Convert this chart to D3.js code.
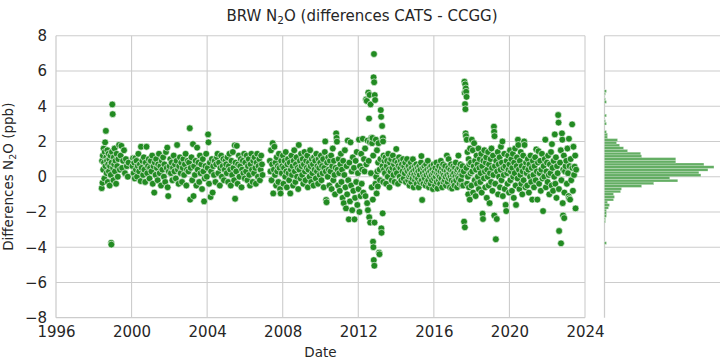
<!DOCTYPE html>
<html>
<head>
<meta charset="utf-8">
<script src="https://cdn.jsdelivr.net/npm/d3@7"></script>
<style>
    body { margin: 0; background: #fff; }
    svg text { font-family: "DejaVu Sans", sans-serif; fill: #262626; }
    .grid line { stroke: #cccccc; stroke-width: 1.1; }
    .spine { stroke: #cccccc; stroke-width: 1.25; }
    .axis path { display: none; }
</style>
</head>
<body>
<script>
//tick labels
var xTicks = [1996, 2000, 2004, 2008, 2012, 2016, 2020, 2024];
var yTicks = [-8, -6, -4, -2, 0, 2, 4, 6, 8];

//[decimal year, CATS - CCGG difference in ppb]
var obs = [
    //1998-1999
    [1998.42,-0.65],[1998.44,0.9],[1998.46,-0.35],[1998.48,1.2],[1998.50,0.4],[1998.52,1.6],[1998.54,0.8],[1998.56,-0.1],
    [1998.58,1.4],[1998.60,1.95],[1998.62,0.6],[1998.64,2.6],[1998.66,1.1],[1998.68,0.2],[1998.70,0.9],[1998.72,1.5],
    [1998.74,-0.3],[1998.76,0.7],[1998.78,1.3],[1998.80,0.3],[1998.82,1.0],[1998.84,-0.5],[1998.86,0.6],[1998.88,1.2],
    [1998.90,0.1],[1998.92,-3.75],[1998.93,-3.85],[1998.94,0.8],[1998.96,1.4],[1998.98,4.1],[1999.00,3.55],[1999.02,0.5],
    [1999.04,-0.2],[1999.06,1.1],[1999.08,0.7],[1999.10,1.6],[1999.12,0.3],[1999.15,0.9],[1999.18,-0.4],[1999.21,1.3],
    [1999.24,0.6],[1999.27,0.0],[1999.30,1.0],[1999.34,1.8],[1999.38,0.4],[1999.42,1.2],[1999.46,1.75],[1999.50,0.5],
    [1999.55,0.9],[1999.60,1.5],[1999.65,0.2],[1999.70,1.0],[1999.75,0.6],[1999.80,0.0],[1999.84,0.8],
    //2000
    [2000.05,0.6],[2000.08,1.05],[2000.11,0.2],[2000.14,0.8],[2000.17,-0.1],[2000.20,1.05],[2000.23,0.4],[2000.26,0.9],
    [2000.29,0.0],[2000.33,0.6],[2000.36,1.3],[2000.40,0.3],[2000.44,0.7],[2000.48,-0.25],[2000.50,1.7],[2000.53,0.5],
    [2000.57,0.9],[2000.61,0.1],[2000.65,1.1],[2000.68,0.4],[2000.72,-0.3],[2000.75,0.8],[2000.79,1.7],[2000.83,0.2],
    [2000.87,0.6],[2000.91,1.0],[2000.95,-0.1],[2000.98,0.5],
    //2001
    [2001.02,0.9],[2001.05,0.3],[2001.09,1.2],[2001.12,-0.4],[2001.16,0.6],[2001.20,-0.9],[2001.23,0.8],[2001.27,0.1],
    [2001.30,1.0],[2001.34,0.5],[2001.38,-0.2],[2001.41,0.7],[2001.45,1.3],[2001.49,0.2],[2001.52,0.6],[2001.56,-0.5],
    [2001.60,0.9],[2001.63,0.4],[2001.67,1.1],[2001.71,0.0],[2001.74,0.7],[2001.78,-0.3],[2001.82,1.4],[2001.86,0.5],
    [2001.89,1.65],[2001.91,-0.6],[2001.94,-1.1],[2001.97,0.3],
    //2002
    [2002.01,0.6],[2002.05,1.0],[2002.08,0.2],[2002.12,0.8],[2002.16,-0.2],[2002.19,0.5],[2002.23,1.2],[2002.27,0.3],
    [2002.30,0.7],[2002.34,-0.1],[2002.38,0.9],[2002.41,1.8],[2002.45,0.4],[2002.49,-0.4],[2002.52,0.6],[2002.56,1.1],
    [2002.60,0.2],[2002.63,0.8],[2002.67,-0.3],[2002.71,0.5],[2002.74,1.0],[2002.78,0.1],[2002.82,0.7],[2002.86,1.3],
    [2002.90,-0.5],[2002.93,0.4],[2002.97,0.9],
    //2003
    [2003.01,0.3],[2003.04,0.8],[2003.08,2.75],[2003.10,-1.3],[2003.13,0.5],[2003.17,1.1],[2003.21,-0.2],[2003.25,1.85],
    [2003.28,-1.1],[2003.31,0.6],[2003.35,0.1],[2003.39,0.9],[2003.43,-0.5],[2003.47,1.65],[2003.50,0.4],[2003.54,0.8],
    [2003.58,-0.3],[2003.62,1.2],[2003.65,0.2],[2003.69,0.7],[2003.73,-0.7],[2003.77,1.0],[2003.80,0.3],[2003.84,-1.4],
    [2003.87,-0.1],[2003.91,0.6],[2003.95,1.3],[2003.98,0.0],
    //2004
    [2004.03,0.5],[2004.05,2.4],[2004.07,1.95],[2004.10,-0.4],[2004.14,0.8],[2004.18,-1.15],[2004.21,0.3],[2004.25,1.0],
    [2004.29,-0.9],[2004.32,0.6],[2004.36,0.1],[2004.40,0.9],[2004.44,-0.3],[2004.48,0.7],[2004.52,1.1],[2004.55,1.3],
    [2004.59,0.2],[2004.63,0.8],[2004.67,-0.5],[2004.70,0.5],[2004.74,1.2],[2004.78,0.0],[2004.82,0.6],[2004.86,1.0],
    [2004.89,-0.2],[2004.93,0.4],[2004.97,0.9],
    //2005
    [2005.01,0.7],[2005.04,0.2],[2005.08,1.1],[2005.11,-0.3],[2005.15,0.6],[2005.18,1.3],[2005.22,0.4],[2005.25,-0.5],
    [2005.29,0.9],[2005.32,0.1],[2005.36,1.4],[2005.39,0.5],[2005.43,-0.2],[2005.46,1.78],[2005.48,-1.25],[2005.50,0.8],
    [2005.54,0.3],[2005.57,1.75],[2005.61,-0.4],[2005.64,0.7],[2005.68,1.2],[2005.71,0.0],[2005.75,0.6],[2005.78,1.0],
    [2005.82,-0.6],[2005.85,0.4],[2005.89,0.9],[2005.92,0.2],[2005.96,1.3],[2005.99,-0.1],
    //2006
    [2006.02,0.8],[2006.06,0.3],[2006.09,1.2],[2006.13,-0.2],[2006.16,0.6],[2006.20,1.0],[2006.23,0.1],[2006.27,-0.5],
    [2006.30,0.7],[2006.34,1.3],[2006.37,0.4],[2006.41,-0.3],[2006.44,0.9],[2006.48,0.2],[2006.51,1.1],[2006.55,0.5],
    [2006.58,-0.4],[2006.62,0.8],[2006.65,1.3],[2006.69,0.0],[2006.72,0.6],[2006.76,1.0],[2006.79,-0.2],[2006.83,0.4],
    [2006.86,1.2],[2006.90,0.7],[2006.93,0.1],
    //2007
    [2007.32,0.9],[2007.35,0.3],[2007.38,1.5],[2007.41,-0.2],[2007.44,0.7],[2007.47,1.9],[2007.50,-0.95],[2007.53,0.4],
    [2007.56,1.7],[2007.59,0.1],[2007.62,0.8],[2007.65,-0.5],[2007.68,1.1],[2007.71,0.3],[2007.74,0.6],[2007.77,-0.3],
    [2007.80,1.3],[2007.83,0.5],[2007.86,-0.7],[2007.89,-0.95],[2007.92,0.9],[2007.95,0.2],[2007.98,0.6],
    //2008
    [2008.01,1.2],[2008.04,-0.4],[2008.07,0.5],[2008.10,0.9],[2008.13,0.0],[2008.16,1.4],[2008.19,0.3],[2008.22,-0.6],
    [2008.25,0.7],[2008.28,1.0],[2008.31,0.2],[2008.34,-0.2],[2008.37,0.8],[2008.40,-0.95],[2008.43,0.4],[2008.46,1.2],
    [2008.49,0.1],[2008.52,0.6],[2008.55,-0.5],[2008.58,0.9],[2008.61,1.5],[2008.64,0.3],[2008.67,-0.3],[2008.70,0.7],
    [2008.73,1.1],[2008.76,0.0],[2008.79,0.5],[2008.82,-0.7],[2008.85,1.8],[2008.88,0.4],[2008.91,0.9],[2008.94,-0.1],
    [2008.97,1.3],
    //2009
    [2009.00,0.6],[2009.03,0.1],[2009.06,1.0],[2009.09,-0.4],[2009.12,0.7],[2009.15,1.4],[2009.18,0.3],[2009.21,-0.2],
    [2009.24,0.9],[2009.27,0.5],[2009.30,1.2],[2009.33,-0.6],[2009.36,0.4],[2009.39,0.8],[2009.42,0.0],[2009.45,1.5],
    [2009.48,0.6],[2009.51,-0.3],[2009.54,1.0],[2009.57,0.2],[2009.60,0.7],[2009.63,-0.5],[2009.66,1.1],[2009.69,0.4],
    [2009.72,0.9],[2009.75,-0.1],[2009.78,1.3],[2009.81,0.3],[2009.84,0.6],[2009.87,-0.4],[2009.90,1.0],[2009.93,0.5],
    [2009.96,0.1],[2009.99,0.8],
    //2010
    [2010.02,1.2],[2010.05,-0.2],[2010.08,0.6],[2010.11,0.2],[2010.14,1.0],[2010.17,-0.6],[2010.20,0.5],[2010.23,1.4],
    [2010.25,2.0],[2010.28,0.3],[2010.30,-1.32],[2010.32,-1.45],[2010.35,0.8],[2010.38,0.0],[2010.41,1.1],[2010.44,0.4],
    [2010.47,-0.5],[2010.50,0.9],[2010.53,0.3],[2010.56,1.2],[2010.59,-0.7],[2010.62,0.6],[2010.65,1.6],[2010.68,-0.2],
    [2010.71,0.9],[2010.74,0.1],[2010.77,-1.0],[2010.80,0.5],[2010.83,2.46],[2010.85,2.2],[2010.87,1.99],[2010.90,0.4],
    [2010.93,-0.5],[2010.96,1.0],[2010.99,0.2],
    //2011
    [2011.02,-0.8],[2011.05,0.7],[2011.08,1.3],[2011.11,-0.3],[2011.14,0.4],[2011.17,-1.2],[2011.20,0.9],[2011.23,-1.5],
    [2011.26,0.1],[2011.29,1.5],[2011.32,-0.6],[2011.35,-1.8],[2011.38,0.6],[2011.41,-1.0],[2011.44,2.05],[2011.47,-0.2],
    [2011.50,-2.42],[2011.53,0.8],[2011.56,-1.4],[2011.59,1.95],[2011.62,-0.5],[2011.65,0.3],[2011.68,-1.9],[2011.71,1.1],
    [2011.74,-0.8],[2011.77,0.5],[2011.80,-2.42],[2011.83,-1.2],[2011.86,0.9],[2011.89,-0.3],[2011.92,1.4],[2011.95,-1.6],
    [2011.98,0.2],
    //2012-2013
    [2012.01,-0.7],[2012.04,2.1],[2012.06,-2.0],[2012.09,0.6],[2012.12,-1.1],[2012.15,1.3],[2012.18,-0.4],[2012.21,0.4],
    [2012.24,2.15],[2012.27,-0.9],[2012.30,1.0],[2012.33,0.3],[2012.36,1.6],[2012.38,-1.1],[2012.41,4.38],[2012.43,0.7],
    [2012.45,4.3],[2012.47,-1.5],[2012.49,2.05],[2012.51,-1.9],[2012.53,4.77],[2012.55,0.9],[2012.57,3.3],[2012.58,-2.3],
    [2012.60,4.64],[2012.61,1.97],[2012.63,-2.6],[2012.65,4.1],[2012.67,0.2],[2012.69,2.2],[2012.71,-0.6],[2012.73,1.9],
    [2012.75,2.2],[2012.77,-1.3],[2012.78,-3.69],[2012.79,1.2],[2012.80,-4.0],[2012.81,5.64],[2012.82,-4.73],[2012.83,6.96],
    [2012.84,5.36],[2012.85,-5.05],[2012.86,-2.6],[2012.87,4.63],[2012.89,4.35],[2012.91,-0.4],[2012.93,2.1],[2012.95,0.0],
    [2012.97,-0.95],[2012.99,1.5],[2013.01,0.3],[2013.03,-0.55],[2013.05,0.8],[2013.07,1.9],[2013.10,-4.31],[2013.12,-4.4],
    [2013.13,0.4],[2013.15,-0.2],[2013.17,1.0],[2013.19,3.78],[2013.21,3.4],[2013.22,-2.93],[2013.23,-3.18],[2013.26,2.88],
    [2013.28,0.6],[2013.29,-2.08],[2013.30,2.2],[2013.31,2.0],[2013.32,-0.3],[2013.34,1.2],[2013.36,0.4],[2013.38,0.9],
    [2013.41,0.2],[2013.44,1.1],[2013.47,-0.4],[2013.50,0.6],[2013.53,0.9],[2013.56,0.0],[2013.59,1.3],[2013.62,0.4],
    [2013.65,-0.6],[2013.68,0.8],[2013.71,0.3],[2013.74,1.0],[2013.77,-0.2],[2013.80,0.5],[2013.83,1.2],[2013.86,0.1],
    [2013.89,0.7],[2013.92,-0.3],[2013.95,0.9],[2013.98,0.4],
    //2014
    [2014.01,1.57],[2014.04,0.2],[2014.07,0.8],[2014.10,-0.4],[2014.13,0.6],[2014.16,1.1],[2014.19,0.0],[2014.22,0.5],
    [2014.25,0.9],[2014.28,-0.2],[2014.31,0.7],[2014.34,0.3],[2014.37,1.0],[2014.40,-0.1],[2014.43,0.6],[2014.46,0.2],
    [2014.49,0.8],[2014.52,-0.3],[2014.55,0.4],[2014.58,1.0],[2014.62,0.3],[2014.64,-0.2],[2014.66,0.6],[2014.69,0.0],
    [2014.71,-0.5],[2014.73,0.4],[2014.75,0.1],[2014.78,0.8],[2014.80,-0.3],[2014.82,0.2],[2014.84,0.5],[2014.87,-0.1],
    [2014.89,0.99],[2014.91,0.3],[2014.93,-0.6],[2014.96,0.1],[2014.98,0.6],
    //2015
    [2015.00,-0.2],[2015.02,0.4],[2015.05,0.0],[2015.07,0.7],[2015.09,-0.4],[2015.11,0.2],[2015.14,0.5],[2015.16,-0.1],
    [2015.18,0.3],[2015.20,-0.6],[2015.23,0.6],[2015.25,0.1],[2015.27,-0.3],[2015.29,0.4],[2015.32,0.8],[2015.34,1.17],
    [2015.36,-0.2],[2015.38,-1.32],[2015.41,0.2],[2015.43,0.5],[2015.45,-0.4],[2015.47,0.0],[2015.50,0.6],[2015.52,-0.1],
    [2015.54,0.3],[2015.56,-0.5],[2015.59,0.7],[2015.61,0.1],[2015.63,-0.3],[2015.65,0.4],[2015.68,0.9],[2015.70,-0.2],
    [2015.72,0.2],[2015.74,-0.6],[2015.77,0.5],[2015.79,0.0],[2015.81,0.3],[2015.83,-0.4],[2015.86,0.6],[2015.88,0.1],
    [2015.90,-0.2],[2015.92,0.4],[2015.95,-0.7],[2015.97,0.2],[2015.99,0.7],
    //2016
    [2016.01,-0.1],[2016.04,0.3],[2016.06,-0.5],[2016.08,0.5],[2016.10,0.0],[2016.13,0.8],[2016.15,-0.3],[2016.17,0.2],
    [2016.19,-0.67],[2016.22,0.4],[2016.24,0.1],[2016.26,-0.2],[2016.28,0.6],[2016.31,0.0],[2016.33,-0.4],[2016.35,0.3],
    [2016.37,0.9],[2016.40,-0.1],[2016.42,0.5],[2016.44,-0.6],[2016.46,0.2],[2016.49,0.7],[2016.51,-0.3],[2016.53,0.1],
    [2016.55,0.4],[2016.58,-0.2],[2016.60,0.6],[2016.62,0.0],[2016.64,-0.5],[2016.67,0.3],[2016.69,1.2],[2016.71,0.1],
    [2016.73,-0.3],[2016.76,0.5],[2016.78,1.0],[2016.80,-0.1],[2016.82,0.2],[2016.85,-0.6],[2016.87,0.4],[2016.89,0.0],
    [2016.91,0.7],[2016.94,-0.2],[2016.96,-0.67],[2016.98,0.3],
    //2017
    [2017.00,0.1],[2017.03,0.6],[2017.05,-0.3],[2017.07,0.2],[2017.09,-0.5],[2017.12,0.5],[2017.14,0.0],[2017.16,0.8],
    [2017.18,-0.2],[2017.21,0.3],[2017.23,-0.6],[2017.25,0.4],[2017.27,0.0],[2017.30,1.2],[2017.32,-0.1],[2017.34,0.5],
    [2017.36,-0.4],[2017.39,0.2],[2017.41,0.7],[2017.43,-0.2],[2017.45,0.3],[2017.48,-0.5],[2017.50,0.1],[2017.52,0.6],
    [2017.55,-0.5],[2017.58,0.3],[2017.60,-2.55],[2017.62,5.39],[2017.63,4.76],[2017.64,-2.87],[2017.65,4.12],[2017.66,5.24],
    [2017.67,3.83],[2017.68,2.46],[2017.69,5.01],[2017.70,2.31],[2017.71,4.82],[2017.72,0.5],[2017.73,4.53],[2017.74,2.1],
    [2017.76,-0.4],[2017.78,1.4],[2017.80,0.0],[2017.82,-1.0],[2017.84,1.0],[2017.86,-0.6],[2017.88,0.7],[2017.90,-1.3],
    [2017.92,1.6],[2017.94,0.2],[2017.96,0.8],[2017.99,-0.5],
    //2018
    [2018.01,2.1],[2018.03,0.3],[2018.06,1.5],[2018.08,-0.9],[2018.11,0.6],[2018.13,1.9],[2018.16,-0.2],[2018.18,0.9],
    [2018.21,-1.1],[2018.23,0.4],[2018.26,1.2],[2018.28,-0.4],[2018.31,0.7],[2018.33,0.0],[2018.36,1.6],[2018.38,-0.7],
    [2018.41,0.5],[2018.43,1.0],[2018.46,-0.3],[2018.48,0.2],[2018.51,1.3],[2018.53,-0.9],[2018.56,0.6],[2018.58,-2.1],
    [2018.60,-2.4],[2018.62,0.9],[2018.65,-0.1],[2018.67,1.5],[2018.70,0.3],[2018.72,-0.6],[2018.75,0.8],[2018.77,1.1],
    [2018.80,-1.2],[2018.82,0.4],[2018.85,0.0],[2018.87,1.4],[2018.90,-0.5],[2018.92,0.7],[2018.95,-1.5],[2018.97,0.2],
    //2019
    [2019.00,1.0],[2019.03,-0.3],[2019.05,1.6],[2019.08,0.5],[2019.10,-0.8],[2019.13,1.2],[2019.15,0.1],[2019.18,2.84],
    [2019.19,2.55],[2019.20,-2.2],[2019.21,2.3],[2019.23,0.6],[2019.25,-0.4],[2019.28,-3.55],[2019.30,0.9],[2019.33,-2.4],
    [2019.35,0.3],[2019.38,1.4],[2019.40,-1.0],[2019.43,0.7],[2019.45,0.0],[2019.48,1.1],[2019.50,-0.6],[2019.53,0.4],
    [2019.55,1.7],[2019.58,-0.2],[2019.60,0.8],[2019.63,2.0],[2019.65,-1.1],[2019.68,0.5],[2019.70,0.1],[2019.73,1.3],
    [2019.75,-0.7],[2019.78,0.6],[2019.80,-1.6],[2019.83,-1.95],[2019.85,0.9],[2019.88,0.2],[2019.90,-0.4],[2019.93,1.2],
    [2019.95,0.4],[2019.98,-0.9],
    //2020
    [2020.00,0.7],[2020.03,1.5],[2020.05,-0.2],[2020.08,0.3],[2020.10,1.0],[2020.13,-0.8],[2020.15,0.5],[2020.18,1.3],
    [2020.20,0.0],[2020.23,-1.2],[2020.25,0.8],[2020.28,0.2],[2020.30,1.6],[2020.33,-0.5],[2020.35,-1.6],[2020.38,0.6],
    [2020.40,1.1],[2020.43,-0.1],[2020.45,2.1],[2020.47,1.8],[2020.50,0.4],[2020.53,-0.7],[2020.55,0.9],[2020.58,0.1],
    [2020.60,1.4],[2020.63,-0.4],[2020.65,0.6],[2020.68,-1.0],[2020.70,0.3],[2020.73,1.2],[2020.75,-0.2],[2020.78,2.0],
    [2020.80,1.8],[2020.83,0.5],[2020.85,-0.6],[2020.88,0.8],[2020.91,0.2],[2020.94,-0.5],[2020.97,1.0],
    //2021
    [2021.00,0.4],[2021.03,-0.9],[2021.06,0.7],[2021.09,0.0],[2021.12,1.2],[2021.15,-0.3],[2021.18,0.5],[2021.21,-1.3],
    [2021.24,0.9],[2021.27,0.1],[2021.30,-0.6],[2021.33,0.6],[2021.36,1.1],[2021.39,-0.2],[2021.42,1.55],[2021.45,0.3],
    [2021.48,-1.3],[2021.51,0.8],[2021.54,1.45],[2021.57,-0.4],[2021.60,0.2],[2021.63,0.9],[2021.66,-0.8],[2021.69,0.4],
    [2021.72,1.3],[2021.75,-0.1],[2021.78,-1.95],[2021.81,0.6],[2021.84,0.0],[2021.87,1.0],[2021.90,2.1],[2021.93,-0.6],
    [2021.96,0.3],[2021.99,0.8],
    //2022
    [2022.02,-0.3],[2022.05,1.2],[2022.08,0.1],[2022.11,-1.0],[2022.14,0.7],[2022.17,0.2],[2022.20,1.4],[2022.23,-0.5],
    [2022.25,1.85],[2022.28,0.5],[2022.31,-0.8],[2022.34,0.9],[2022.37,0.0],[2022.40,2.4],[2022.43,-0.4],[2022.46,1.1],
    [2022.49,-1.2],[2022.52,0.6],[2022.55,0.2],[2022.58,3.5],[2022.60,3.07],[2022.62,-0.7],[2022.63,-3.08],[2022.68,0.8],
    [2022.73,-3.78],[2022.72,1.5],[2022.75,-0.2],[2022.78,2.46],[2022.80,2.1],[2022.82,-1.5],[2022.84,-2.2],[2022.85,0.4],
    [2022.88,1.2],[2022.90,-2.35],[2022.91,-0.9],[2022.94,0.3],[2022.97,0.6],
    //2023
    [2023.01,0.9],[2023.04,-0.4],[2023.07,1.6],[2023.10,0.2],[2023.13,-1.1],[2023.15,2.15],[2023.16,-1.23],[2023.18,0.6],
    [2023.21,-1.3],[2023.24,1.0],[2023.27,-0.2],[2023.32,2.97],[2023.33,0.5],[2023.36,-0.8],[2023.39,1.7],[2023.42,0.1],
    [2023.45,0.57],[2023.48,1.2],[2023.50,-1.8],[2023.53,0.4]
];

//marginal histogram of the differences: counts per bin, from the lowest bin upward
var histStart = -3.84;
var histBinWidth = 0.1539;
var histCounts = [2,0,0,0,0,0,0,0,1,1,2,2,2,4,5,3,9,10,9,16,17,37,49,73,65,96,94,103,109,99,
                  71,71,37,36,23,19,15,12,13,3,3,2,0,0,2,1,0,2,0,0,0,0,2,1,0,1,2];

(function () {

    var width = 720,
        height = 360;

    var svg = d3.select("body")
        .append("svg")
        .attr("width", width)
        .attr("height", height);

    //main panel and histogram panel share the y scale
    var x = d3.scaleLinear().domain([1996, 2024]).range([56, 585]);
    var y = d3.scaleLinear().domain([-8, 8]).range([317.7, 35.7]);
    var hx = d3.scaleLinear().domain([0, 115]).range([604.5, 720]);

    //grid lines
    var grid = svg.append("g").attr("class", "grid");
    grid.selectAll(".hgrid")
        .data(yTicks.filter(function (d) { return d > -8; }))
        .enter()
        .append("line")
        .attr("x1", x(1996)).attr("x2", x(2024))
        .attr("y1", function (d) { return y(d); })
        .attr("y2", function (d) { return y(d); });
    grid.selectAll(".vgrid")
        .data(xTicks.filter(function (d) { return d > 1996; }))
        .enter()
        .append("line")
        .attr("x1", function (d) { return x(d); })
        .attr("x2", function (d) { return x(d); })
        .attr("y1", y(-8)).attr("y2", y(8));
    grid.selectAll(".histgrid")
        .data(yTicks.filter(function (d) { return d > -8; }))
        .enter()
        .append("line")
        .attr("x1", hx(0)).attr("x2", width)
        .attr("y1", function (d) { return y(d); })
        .attr("y2", function (d) { return y(d); });

    //spines (left + bottom only, seaborn despine look)
    svg.append("line").attr("class", "spine")
        .attr("x1", x(1996)).attr("x2", x(1996)).attr("y1", y(-8)).attr("y2", y(8));
    svg.append("line").attr("class", "spine")
        .attr("x1", x(1996)).attr("x2", x(2024)).attr("y1", y(-8)).attr("y2", y(-8));
    svg.append("line").attr("class", "spine")
        .attr("x1", hx(0)).attr("x2", hx(0)).attr("y1", y(-8)).attr("y2", y(8));

    //scatter points
    svg.append("g")
        .selectAll("circle")
        .data(obs)
        .enter()
        .append("circle")
        .attr("cx", function (d) { return x(d[0]); })
        .attr("cy", function (d) { return y(d[1]); })
        .attr("r", 3.4)
        .style("fill", "#228b22")
        .style("stroke", "#ffffff")
        .style("stroke-width", 0.6);

    //histogram bins: keep the bin index with each count
    var bins = histCounts.map(function (c, i) {
        return { lo: histStart + i * histBinWidth, hi: histStart + (i + 1) * histBinWidth, count: c };
    }).filter(function (b) { return b.count > 0; });

    svg.append("g")
        .selectAll("rect")
        .data(bins)
        .enter()
        .append("rect")
        .attr("x", hx(0))
        .attr("y", function (d) { return y(d.hi); })
        .attr("width", function (d) { return hx(d.count) - hx(0); })
        .attr("height", function (d) { return y(d.lo) - y(d.hi); })
        .style("fill", "#228b22")
        .style("fill-opacity", 0.7)
        .style("stroke", "#ffffff")
        .style("stroke-width", 0.4)
        .style("stroke-opacity", 0.6);

    //axes, labels only
    var xAxis = d3.axisBottom(x)
        .tickValues(xTicks)
        .tickFormat(d3.format("d"))
        .tickSize(0)
        .tickPadding(9);
    svg.append("g")
        .attr("class", "axis")
        .attr("transform", "translate(0," + y(-8) + ")")
        .call(xAxis)
        .selectAll("text")
        .style("font-size", "15px")
        .style("fill", "#262626");

    var yAxis = d3.axisLeft(y)
        .tickValues(yTicks)
        .tickFormat(function (d) { return d < 0 ? "\u2212" + Math.abs(d) : d; })
        .tickSize(0)
        .tickPadding(9);
    svg.append("g")
        .attr("class", "axis")
        .attr("transform", "translate(" + x(1996) + ",0)")
        .call(yAxis)
        .selectAll("text")
        .style("font-size", "15px")
        .style("fill", "#262626");

    //title with subscript
    var title = svg.append("text")
        .attr("x", 362)
        .attr("y", 21)
        .attr("text-anchor", "middle")
        .style("font-size", "15px");
    title.append("tspan").text("BRW N");
    title.append("tspan").attr("baseline-shift", "-25%").style("font-size", "10.5px").text("2");
    title.append("tspan").text("O (differences CATS - CCGG)");

    //axis labels
    svg.append("text")
        .attr("x", (x(1996) + x(2024)) / 2)
        .attr("y", 357)
        .attr("text-anchor", "middle")
        .style("font-size", "13.5px")
        .text("Date");

    var ylab = svg.append("text")
        .attr("transform", "translate(13," + y(0) + ") rotate(-90)")
        .attr("text-anchor", "middle")
        .style("font-size", "13.5px");
    ylab.append("tspan").text("Differences N");
    ylab.append("tspan").attr("baseline-shift", "-25%").style("font-size", "9.5px").text("2");
    ylab.append("tspan").text("O (ppb)");

})();
</script>
</body>
</html>
